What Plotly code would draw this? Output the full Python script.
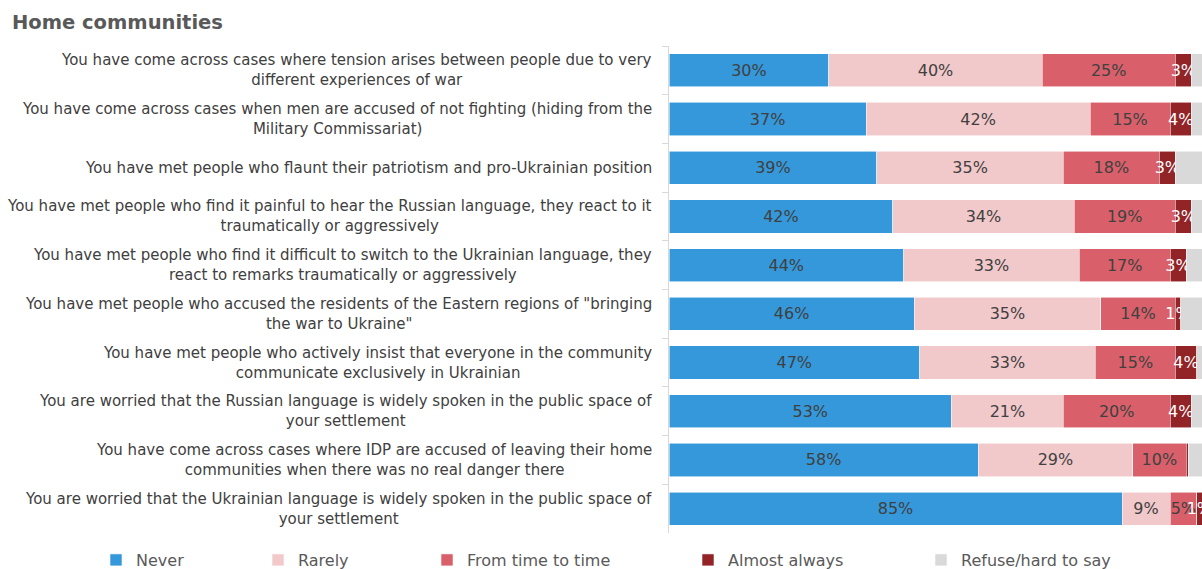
import plotly.graph_objects as go

# Survey statements (top to bottom)
statements = [
    "You have come across cases where tension arises between people due to very<br>different experiences of war",
    "You have come across cases when men are accused of not fighting (hiding from the<br>Military Commissariat)",
    "You have met people who flaunt their patriotism and pro-Ukrainian position",
    "You have met people who find it painful to hear the Russian language, they react to it<br>traumatically or aggressively",
    "You have met people who find it difficult to switch to the Ukrainian language, they<br>react to remarks traumatically or aggressively",
    "You have met people who accused the residents of the Eastern regions of \"bringing<br>the war to Ukraine\"",
    "You have met people who actively insist that everyone in the community<br>communicate exclusively in Ukrainian",
    "You are worried that the Russian language is widely spoken in the public space of<br>your settlement",
    "You have come across cases where IDP are accused of leaving their home<br>communities when there was no real danger there",
    "You are worried that the Ukrainian language is widely spoken in the public space of<br>your settlement",
]

# Answer shares, %
never = [30, 37, 39, 42, 44, 46, 47, 53, 58, 85]
rarely = [40, 42, 35, 34, 33, 35, 33, 21, 29, 9]
time_to_time = [25, 15, 18, 19, 17, 14, 15, 20, 10, 5]
almost_always = [3, 4, 3, 3, 3, 1, 4, 4, 0.4, 1]
refuse = [2, 2, 5, 2, 3, 4, 1, 2, 2.6, 0]

series = [
    ("Never", never, "#3498db", "#404040", True),
    ("Rarely", rarely, "#f2c9cb", "#404040", True),
    ("From time to time", time_to_time, "#d9606a", "#404040", True),
    ("Almost always", almost_always, "#922428", "#ffffff", True),
    ("Refuse/hard to say", refuse, "#d9d9d9", "#404040", False),
]

FONT = "DejaVu Sans, Verdana, sans-serif"

W, H = 1202, 569
ML, MR, MT, MB = 669, 0, 46, 36

# Legend text start positions (px) for each series
legend_text_px = [136, 298, 467, 728, 961]
legend_y_px = 560

fig = go.Figure()
for i, (name, vals, color, tcolor, labelled) in enumerate(series):
    texts = [f"{v:.0f}%" if (labelled and v >= 1) else "" for v in vals]
    fig.add_trace(go.Bar(
        name=name,
        y=statements,
        x=vals,
        orientation="h",
        marker=dict(color=color, line=dict(color="rgba(255,255,255,0.7)", width=0.8)),
        text=texts,
        textposition="inside",
        insidetextanchor="middle",
        textangle=0,
        textfont=dict(family=FONT, size=16, color=tcolor),
        constraintext="none",
        hoverinfo="skip",
        legend="legend" if i == 0 else f"legend{i + 1}",
    ))

# One legend per series so each entry sits at its own spot
legend_font = dict(family=FONT, size=16, color="#595959")
for i in range(len(series)):
    key = "legend" if i == 0 else f"legend{i + 1}"
    x_left_px = legend_text_px[i] - 40
    fig.update_layout(**{key: dict(
        x=x_left_px / W,
        xref="container",
        y=1 - legend_y_px / H,
        yref="container",
        xanchor="left",
        yanchor="middle",
        orientation="h",
        font=legend_font,
        bgcolor="rgba(0,0,0,0)",
        borderwidth=0,
        itemclick=False,
        itemdoubleclick=False,
    )})

# Category labels, centred line by line, right next to the axis
for s in statements:
    fig.add_annotation(
        x=0, xref="paper", xanchor="right", xshift=-15,
        y=s, yref="y", yanchor="middle",
        text=s, showarrow=False, align="center",
        font=dict(family=FONT, size=15, color="#404040"),
    )

fig.update_layout(
    barmode="stack",
    bargap=0.32,
    width=W,
    height=H,
    autosize=False,
    margin=dict(l=ML, r=MR, t=MT, b=MB, pad=0, autoexpand=False),
    paper_bgcolor="white",
    plot_bgcolor="white",
    showlegend=True,
    uniformtext=dict(minsize=16, mode="show"),
    title=dict(
        text="<b>Home communities</b>",
        x=12 / W, xanchor="left", xref="container",
        y=1 - 22 / H, yanchor="middle", yref="container",
        font=dict(family=FONT, size=19.5, color="#595959"),
    ),
    xaxis=dict(range=[0, 100], visible=False, fixedrange=True),
    yaxis=dict(
        autorange="reversed",
        showticklabels=False,
        showline=True,
        linecolor="#d9d9d9",
        linewidth=1,
        ticks="outside",
        tickson="boundaries",
        ticklen=6,
        tickcolor="#d9d9d9",
        showgrid=False,
        fixedrange=True,
    ),
)

fig.write_html("out.html", config={"displayModeBar": False})
